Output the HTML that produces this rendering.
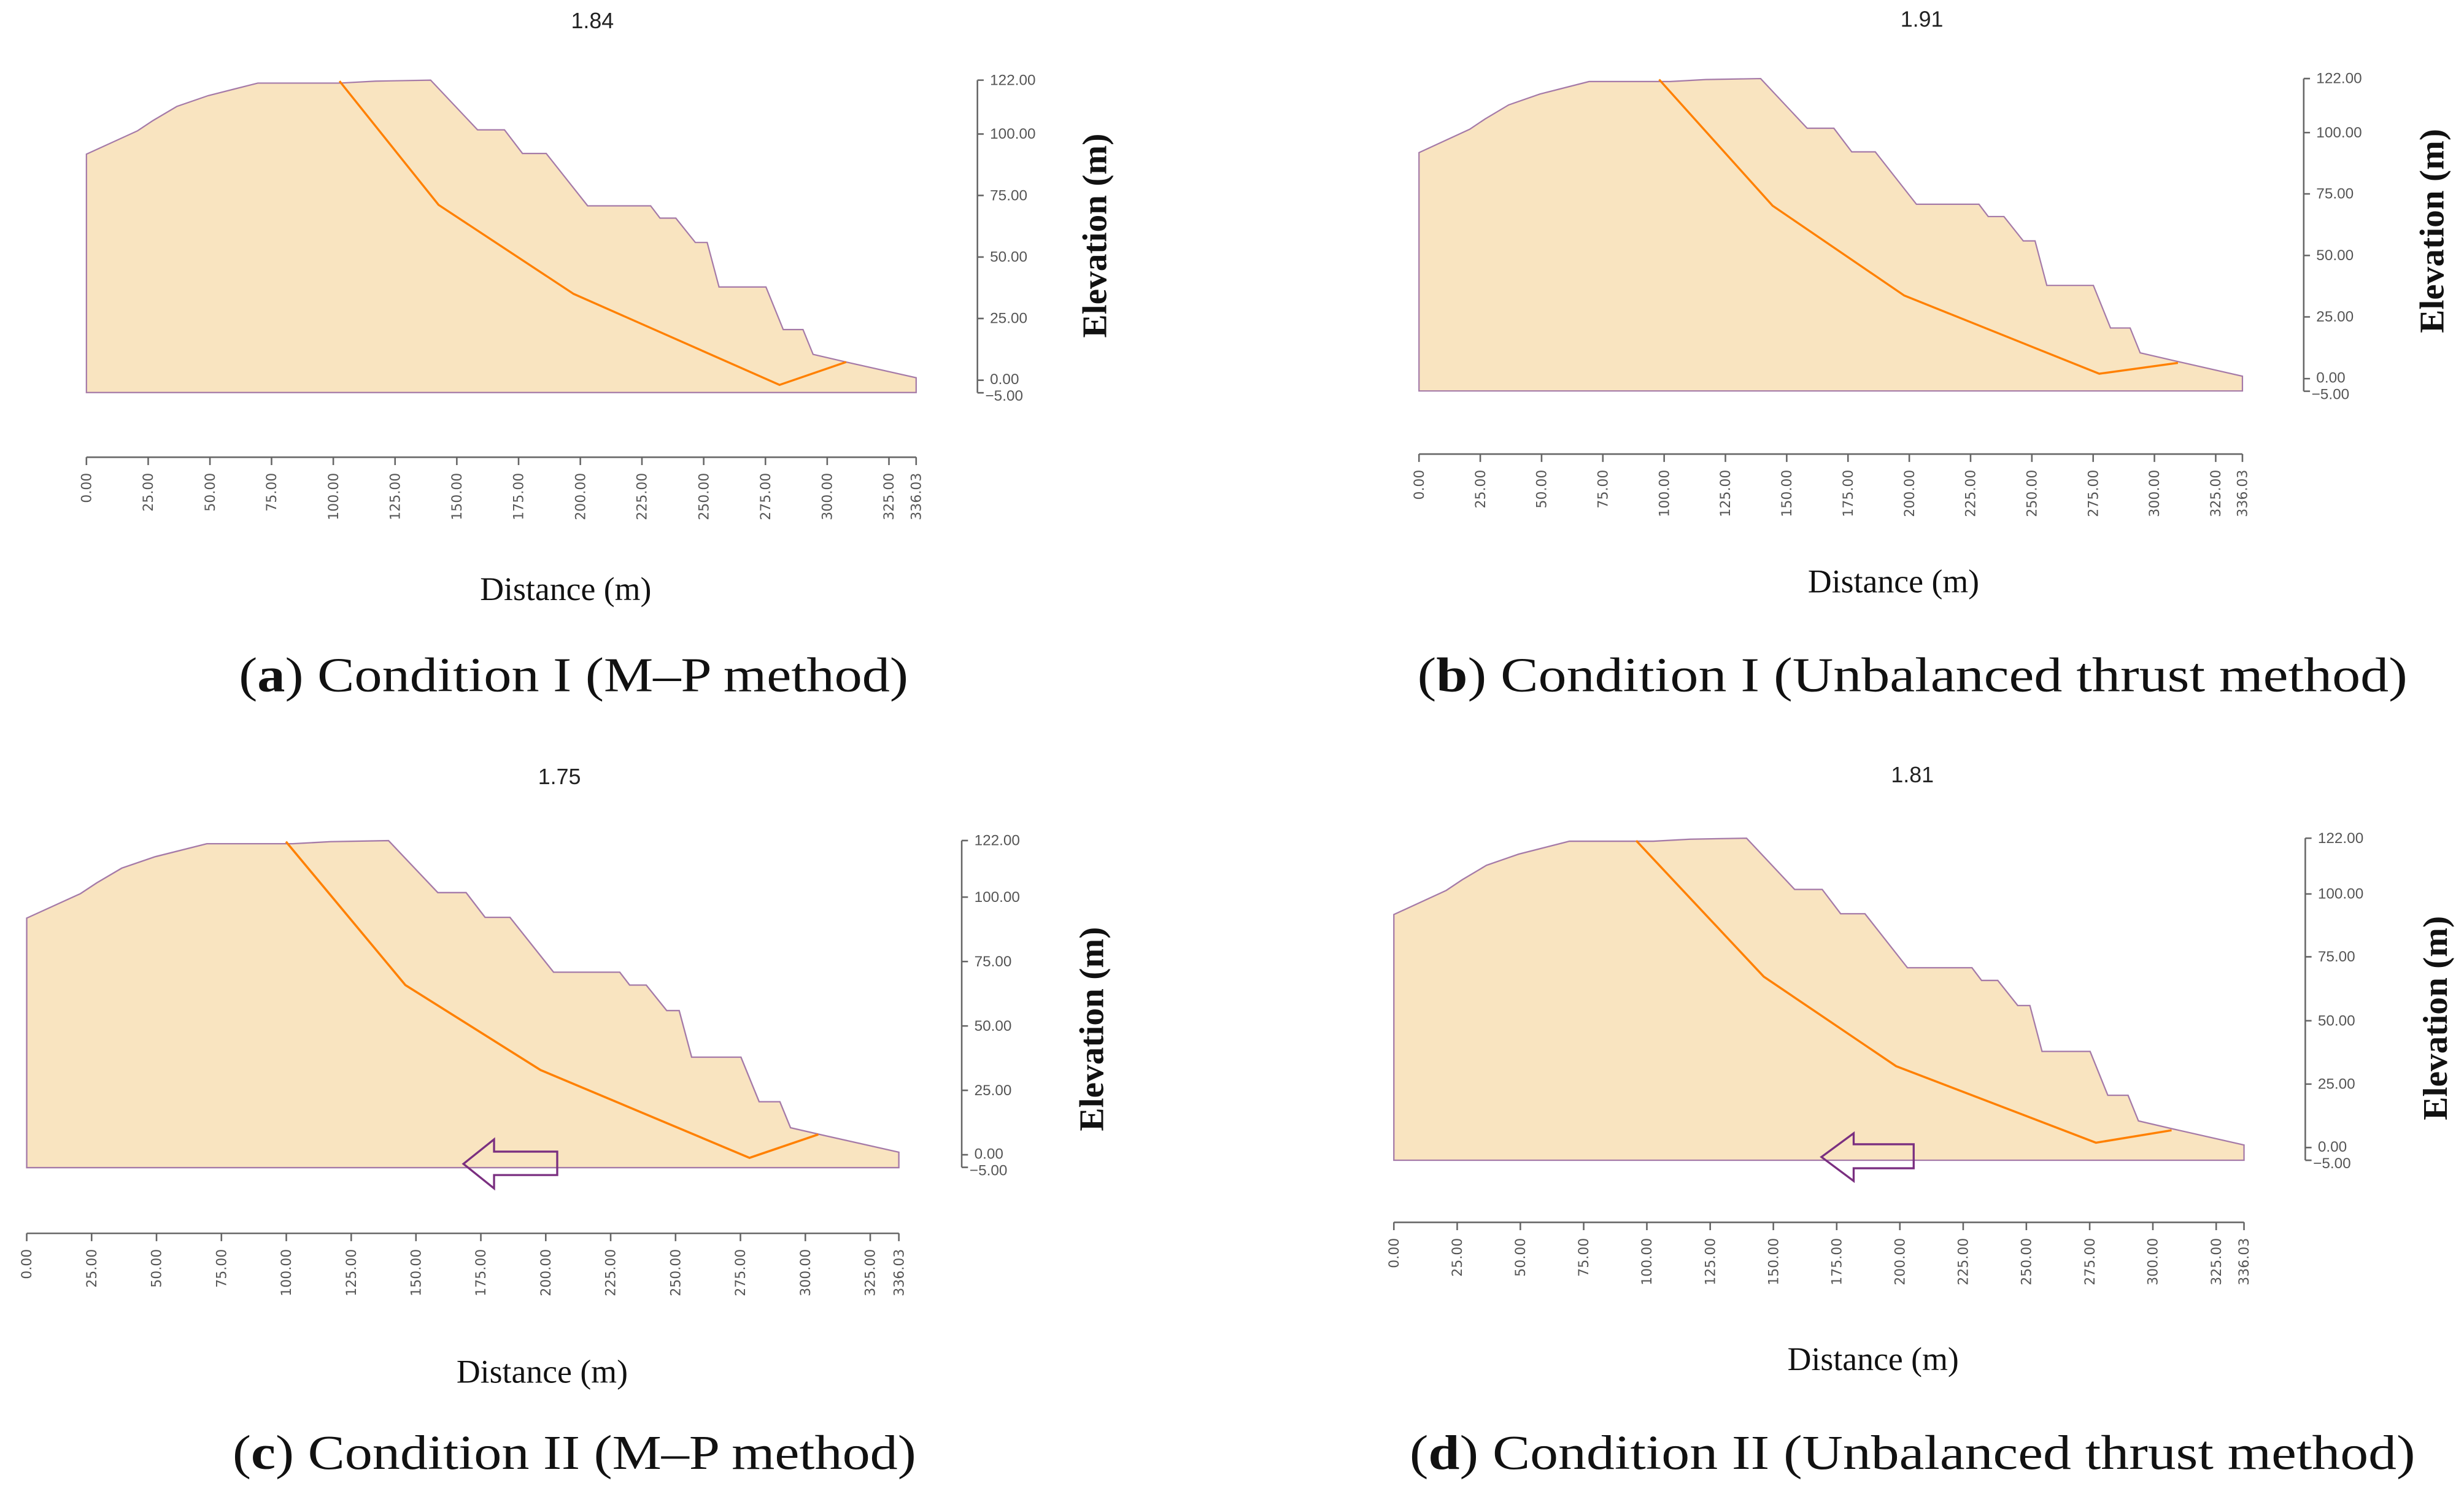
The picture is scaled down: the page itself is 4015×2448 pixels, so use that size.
<!DOCTYPE html>
<html><head><meta charset="utf-8"><style>
html,body{margin:0;padding:0;background:#fff}
svg{display:block}
.tk{font-family:"DejaVu Sans","Liberation Sans",sans-serif;font-size:8.6px;fill:#555}
.yt{font-family:"Liberation Sans",sans-serif;font-size:9.5px;fill:#555}
.ser{font-family:"Liberation Serif",serif;fill:#111}
</style></head><body>
<svg width="4015" height="2448" viewBox="0 0 1568 956" xmlns="http://www.w3.org/2000/svg">
<defs>
<polygon id="prof" points="0,91.9 20.7,101.4 27,105.6 36.6,111.3 49.3,115.7 69.4,120.8 102.5,120.8 117.1,121.6 139.4,122 158.4,101.8 169.3,101.8 176.6,92.2 186.2,92.2 203,70.9 228.5,70.9 232.3,65.9 238.7,65.9 246.6,56 251.4,56 256.2,37.9 275.2,37.9 282.2,20.6 290.2,20.6 294.3,10.5 307.7,7.4 336.03,1 336.03,-5 0,-5" fill="#f9e4c0" stroke="#a57aa8" stroke-width="0.55"/>
</defs>

<g transform="translate(55,242) scale(1.5713,-1.5656)">
<use href="#prof"/>
<polyline points="102.5,121.6 142.6,71.3 197.3,35.1 280.7,-1.9 307.7,7.4" fill="none" stroke="#ff8000" stroke-width="0.85"/>
</g>
<g transform="translate(903,241) scale(1.5594,-1.5656)">
<use href="#prof"/>
<polyline points="98,121.6 144.3,70.3 198,33.8 277.6,2 309.7,6.4" fill="none" stroke="#ff8000" stroke-width="0.85"/>
</g>
<g transform="translate(17,735) scale(1.6516,-1.639)">
<use href="#prof"/>
<polyline points="99.9,121.6 145.9,65.9 198,32.9 278.5,-1.2 305,7.9" fill="none" stroke="#ff8000" stroke-width="0.85"/>
</g>
<polygon points="294.9,740.8 314.4,725.2 314.4,733 354.6,733 354.6,747.9 314.4,747.9 314.4,756.4" fill="none" stroke="#7a2f80" stroke-width="1.3"/>
<g transform="translate(887,730.4) scale(1.61,-1.614)">
<use href="#prof"/>
<polyline points="95.8,121 146.2,67.4 198.5,32.1 277.5,1.9 307.4,6.8" fill="none" stroke="#ff8000" stroke-width="0.85"/>
</g>
<polygon points="1159.1,736.4 1179.6,721.3 1179.6,728.3 1217.8,728.3 1217.8,743.6 1179.6,743.6 1179.6,751.7" fill="none" stroke="#7a2f80" stroke-width="1.3"/>

<g stroke="#666" stroke-width="1" fill="none">
<path d="M55,291H583 M903,289H1427 M17,785H572 M887,778H1428"/>
</g>

<g stroke="#666" stroke-width="1">
<path d="M55,291v5M94.3,291v5M133.6,291v5M172.8,291v5M212.1,291v5M251.4,291v5M290.7,291v5M330,291v5M369.3,291v5M408.5,291v5M447.8,291v5M487.1,291v5M526.4,291v5M565.7,291v5M583,291v5"/>
<path d="M903,289v5M942,289v5M981,289v5M1020,289v5M1059,289v5M1098,289v5M1137,289v5M1176,289v5M1215,289v5M1254,289v5M1293,289v5M1332,289v5M1371,289v5M1410,289v5M1427,289v5"/>
<path d="M17,785v5M58.3,785v5M99.6,785v5M140.9,785v5M182.2,785v5M223.5,785v5M264.7,785v5M306,785v5M347.3,785v5M388.6,785v5M429.9,785v5M471.2,785v5M512.5,785v5M553.8,785v5M572,785v5"/>
<path d="M887,778v5M927.3,778v5M967.5,778v5M1007.8,778v5M1048,778v5M1088.3,778v5M1128.5,778v5M1168.8,778v5M1209,778v5M1249.3,778v5M1289.5,778v5M1329.8,778v5M1370,778v5M1410.3,778v5M1428,778v5"/>
</g>
<g class="tk" text-anchor="end">
<text transform="translate(58,301) rotate(-90)">0.00</text><text transform="translate(97.3,301) rotate(-90)">25.00</text><text transform="translate(136.6,301) rotate(-90)">50.00</text><text transform="translate(175.8,301) rotate(-90)">75.00</text><text transform="translate(215.1,301) rotate(-90)">100.00</text><text transform="translate(254.4,301) rotate(-90)">125.00</text><text transform="translate(293.7,301) rotate(-90)">150.00</text><text transform="translate(333,301) rotate(-90)">175.00</text><text transform="translate(372.3,301) rotate(-90)">200.00</text><text transform="translate(411.5,301) rotate(-90)">225.00</text><text transform="translate(450.8,301) rotate(-90)">250.00</text><text transform="translate(490.1,301) rotate(-90)">275.00</text><text transform="translate(529.4,301) rotate(-90)">300.00</text><text transform="translate(568.7,301) rotate(-90)">325.00</text><text transform="translate(586,301) rotate(-90)">336.03</text>
<text transform="translate(906,299) rotate(-90)">0.00</text><text transform="translate(945,299) rotate(-90)">25.00</text><text transform="translate(984,299) rotate(-90)">50.00</text><text transform="translate(1023,299) rotate(-90)">75.00</text><text transform="translate(1062,299) rotate(-90)">100.00</text><text transform="translate(1101,299) rotate(-90)">125.00</text><text transform="translate(1140,299) rotate(-90)">150.00</text><text transform="translate(1179,299) rotate(-90)">175.00</text><text transform="translate(1218,299) rotate(-90)">200.00</text><text transform="translate(1257,299) rotate(-90)">225.00</text><text transform="translate(1296,299) rotate(-90)">250.00</text><text transform="translate(1335,299) rotate(-90)">275.00</text><text transform="translate(1374,299) rotate(-90)">300.00</text><text transform="translate(1413,299) rotate(-90)">325.00</text><text transform="translate(1430,299) rotate(-90)">336.03</text>
<text transform="translate(20,795) rotate(-90)">0.00</text><text transform="translate(61.3,795) rotate(-90)">25.00</text><text transform="translate(102.6,795) rotate(-90)">50.00</text><text transform="translate(143.9,795) rotate(-90)">75.00</text><text transform="translate(185.2,795) rotate(-90)">100.00</text><text transform="translate(226.5,795) rotate(-90)">125.00</text><text transform="translate(267.7,795) rotate(-90)">150.00</text><text transform="translate(309,795) rotate(-90)">175.00</text><text transform="translate(350.3,795) rotate(-90)">200.00</text><text transform="translate(391.6,795) rotate(-90)">225.00</text><text transform="translate(432.9,795) rotate(-90)">250.00</text><text transform="translate(474.2,795) rotate(-90)">275.00</text><text transform="translate(515.5,795) rotate(-90)">300.00</text><text transform="translate(556.8,795) rotate(-90)">325.00</text><text transform="translate(575,795) rotate(-90)">336.03</text>
<text transform="translate(890,788) rotate(-90)">0.00</text><text transform="translate(930.3,788) rotate(-90)">25.00</text><text transform="translate(970.5,788) rotate(-90)">50.00</text><text transform="translate(1010.8,788) rotate(-90)">75.00</text><text transform="translate(1051,788) rotate(-90)">100.00</text><text transform="translate(1091.3,788) rotate(-90)">125.00</text><text transform="translate(1131.5,788) rotate(-90)">150.00</text><text transform="translate(1171.8,788) rotate(-90)">175.00</text><text transform="translate(1212,788) rotate(-90)">200.00</text><text transform="translate(1252.3,788) rotate(-90)">225.00</text><text transform="translate(1292.5,788) rotate(-90)">250.00</text><text transform="translate(1332.8,788) rotate(-90)">275.00</text><text transform="translate(1373,788) rotate(-90)">300.00</text><text transform="translate(1413.3,788) rotate(-90)">325.00</text><text transform="translate(1431,788) rotate(-90)">336.03</text>
</g>

<g stroke="#666" stroke-width="1" fill="none">
<path d="M622,51V250 M622,51h4M622,85.3h4M622,124.4h4M622,163.6h4M622,202.7h4M622,242h4M622,250h4"/>
<path d="M1466,50V249 M1466,50h4M1466,84.4h4M1466,123.4h4M1466,162.6h4M1466,201.7h4M1466,241h4M1466,249h4"/>
<path d="M612,535V743 M612,535h4M612,571h4M612,612h4M612,653h4M612,694h4M612,735h4M612,743h4"/>
<path d="M1467,533.5V738.5 M1467,533.5h4M1467,569h4M1467,609h4M1467,649.7h4M1467,690h4M1467,730.4h4M1467,738.5h4"/>
</g>
<g class="yt">
<text x="630" y="54">122.00</text><text x="630" y="88.3">100.00</text><text x="630" y="127.4">75.00</text><text x="630" y="166.6">50.00</text><text x="630" y="205.7">25.00</text><text x="630" y="244.5">0.00</text><text x="627" y="255">−5.00</text>
<text x="1474" y="53">122.00</text><text x="1474" y="87.4">100.00</text><text x="1474" y="126.4">75.00</text><text x="1474" y="165.6">50.00</text><text x="1474" y="204.7">25.00</text><text x="1474" y="243.5">0.00</text><text x="1471" y="254">−5.00</text>
<text x="620" y="538">122.00</text><text x="620" y="574">100.00</text><text x="620" y="615">75.00</text><text x="620" y="656">50.00</text><text x="620" y="697">25.00</text><text x="620" y="737.5">0.00</text><text x="617" y="748">−5.00</text>
<text x="1475" y="536.5">122.00</text><text x="1475" y="572">100.00</text><text x="1475" y="612">75.00</text><text x="1475" y="652.7">50.00</text><text x="1475" y="693">25.00</text><text x="1475" y="733">0.00</text><text x="1472" y="743.5">−5.00</text>
</g>

<g font-family="Liberation Sans, sans-serif" font-size="14" fill="#222" text-anchor="middle">
<text x="377" y="18">1.84</text><text x="1223" y="17">1.91</text><text x="356" y="499">1.75</text><text x="1217" y="498">1.81</text>
</g>

<g class="ser" font-size="21" text-anchor="middle">
<text x="360" y="382">Distance (m)</text>
<text x="1205" y="377">Distance (m)</text>
<text x="345" y="880">Distance (m)</text>
<text x="1192" y="872">Distance (m)</text>
</g>
<g class="ser" font-size="22" text-anchor="middle" font-weight="bold">
<text transform="translate(704,150) rotate(-90)" textLength="130" lengthAdjust="spacingAndGlyphs">Elevation (m)</text>
<text transform="translate(1555,147) rotate(-90)" textLength="130" lengthAdjust="spacingAndGlyphs">Elevation (m)</text>
<text transform="translate(702,655) rotate(-90)" textLength="130" lengthAdjust="spacingAndGlyphs">Elevation (m)</text>
<text transform="translate(1557,648) rotate(-90)" textLength="130" lengthAdjust="spacingAndGlyphs">Elevation (m)</text>
</g>

<g class="ser" font-size="31">
<text x="152" y="440" textLength="426" lengthAdjust="spacingAndGlyphs">(<tspan font-weight="bold">a</tspan>) Condition I (M–P method)</text>
<text x="902" y="440" textLength="630" lengthAdjust="spacingAndGlyphs">(<tspan font-weight="bold">b</tspan>) Condition I (Unbalanced thrust method)</text>
<text x="148" y="935" textLength="435" lengthAdjust="spacingAndGlyphs">(<tspan font-weight="bold">c</tspan>) Condition II (M–P method)</text>
<text x="897" y="935" textLength="640" lengthAdjust="spacingAndGlyphs">(<tspan font-weight="bold">d</tspan>) Condition II (Unbalanced thrust method)</text>
</g>
</svg>
</body></html>
